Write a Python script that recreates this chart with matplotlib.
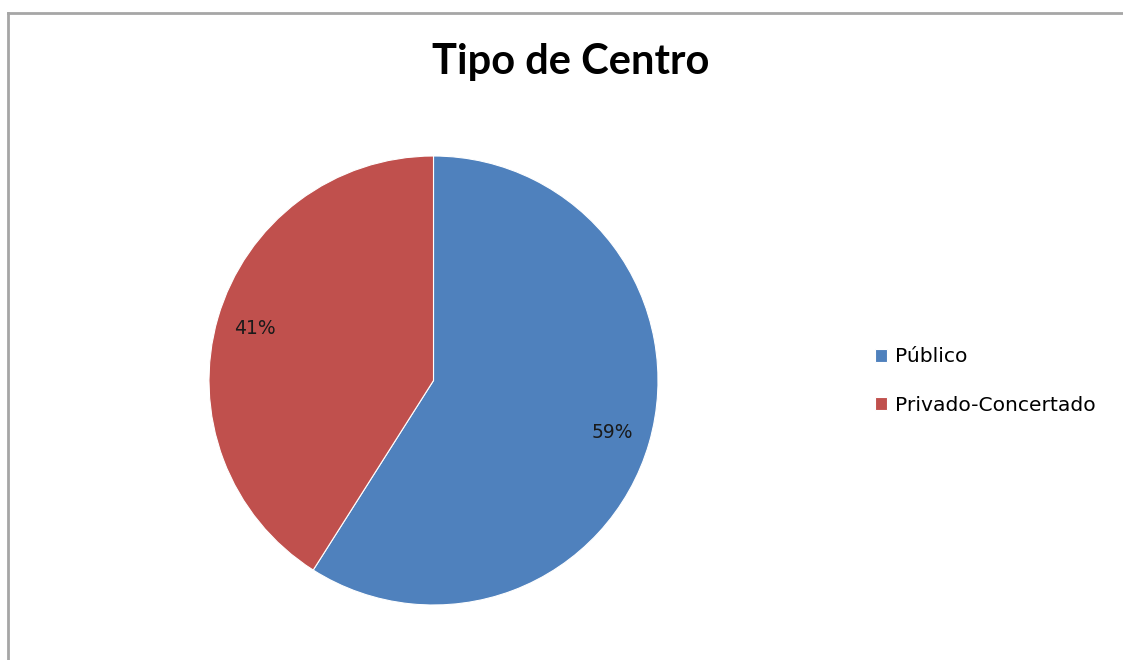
import matplotlib
matplotlib.use("Agg")
import matplotlib.pyplot as plt
from matplotlib.lines import Line2D
from matplotlib.font_manager import FontProperties

categories = ["Público", "Privado-Concertado"]
values = [59, 41]
colors = ["#4F81BD", "#C0504D"]
title = "Tipo de Centro"

W, H = 1123, 660
fig = plt.figure(figsize=(W / 100, H / 100), dpi=100)
fig.patch.set_facecolor("white")

# Frame lines (left and top) of the chart area
fig.add_artist(Line2D([7.5 / W, 7.5 / W], [0, 1 - 12.5 / H], transform=fig.transFigure,
                      color="#A6A6A6", lw=2.0))
fig.add_artist(Line2D([7.5 / W, 1], [1 - 12.5 / H, 1 - 12.5 / H], transform=fig.transFigure,
                      color="#A6A6A6", lw=2.0))

cx, cy, r = 433.5, 380.5, 224.5
ax = fig.add_axes([(cx - r) / W, (H - cy - r) / H, 2 * r / W, 2 * r / H])
wedges, texts, autotexts = ax.pie(
    values, colors=colors, startangle=90, counterclock=False,
    autopct=lambda p: f"{p:.0f}%", pctdistance=0.83,
    wedgeprops=dict(edgecolor="white", linewidth=0.8),
    textprops=dict(fontsize=13.5, color="#1a1a1a", family="DejaVu Sans"),
)
ax.set_xlim(-1, 1)
ax.set_ylim(-1, 1)
ax.set_aspect("equal")
ax.axis("off")

fig.text(571 / W, 1 - 62 / H, title, ha="center", va="center",
         fontsize=30, fontweight="bold", family="Lato")

fig.legend(wedges, categories, loc="center left",
           bbox_to_anchor=(875 / W, 1 - 381 / H), frameon=False,
           prop=FontProperties(family="DejaVu Sans", size=14.6),
           handlelength=0.6, handleheight=0.6, handletextpad=0.4,
           labelspacing=1.45, borderpad=0, borderaxespad=0)

fig.savefig("out.png", dpi=100)
